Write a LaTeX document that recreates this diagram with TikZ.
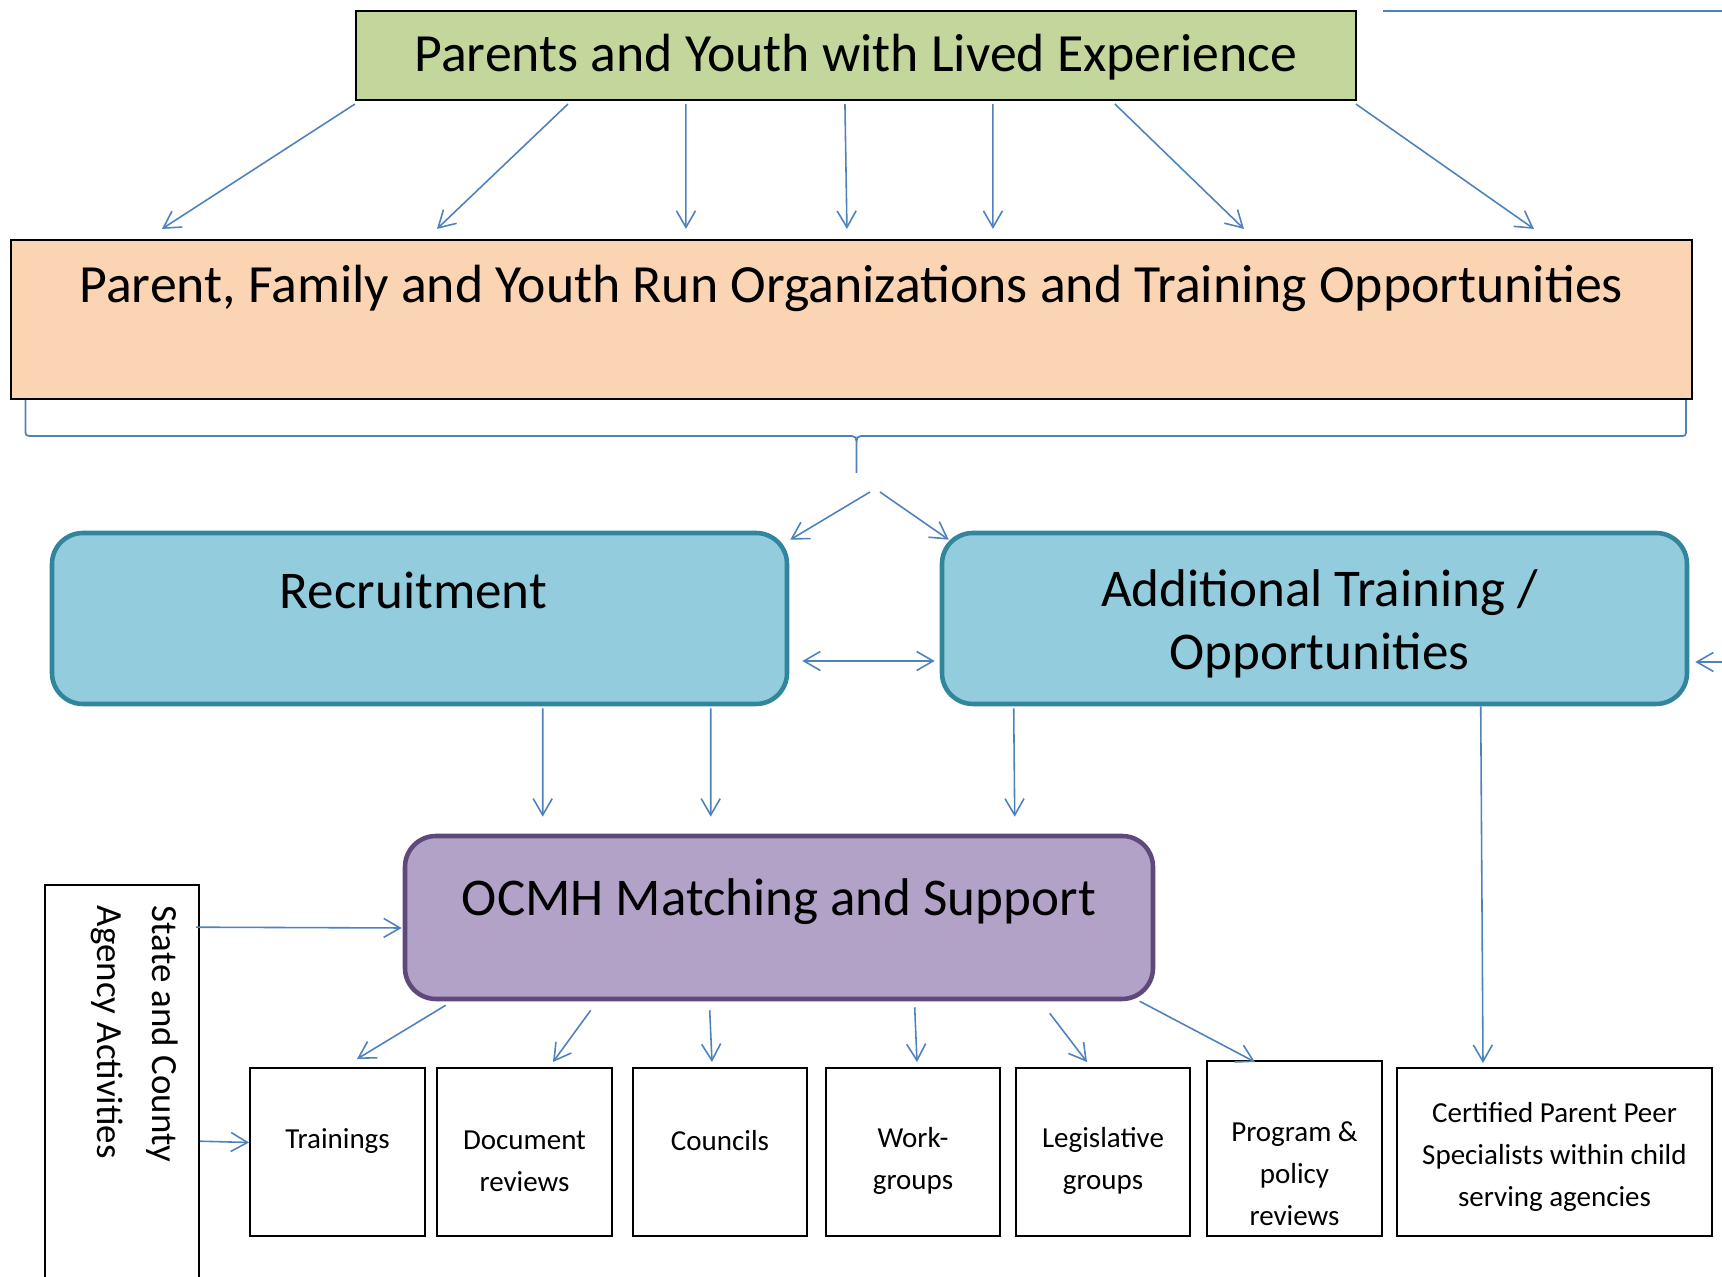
\documentclass[tikz,border=0pt]{standalone}
\usepackage{fontspec}
\setmainfont{Carlito}
\usetikzlibrary{arrows.meta,calc}

\definecolor{arrowblue}{HTML}{4F81BD}
\definecolor{livedgreen}{HTML}{C3D69B}
\definecolor{orgpeach}{HTML}{FBD4B4}
\definecolor{tealfill}{HTML}{93CDDD}
\definecolor{tealline}{HTML}{31859C}
\definecolor{lilacfill}{HTML}{B2A2C7}
\definecolor{lilacline}{HTML}{5F497A}

\begin{document}
\begin{tikzpicture}[x=1cm, y=-1cm,
	>={Straight Barb[length=0.165cm, width=0.19cm]},
	arr/.style={draw=arrowblue, line width=0.45pt, ->},
	link/.style={draw=arrowblue, line width=0.5pt},
	toptext/.style={font=\fontsize{15.3}{18}\selectfont},
	midtext/.style={font=\fontsize{15.1}{17.9}\selectfont, align=center},
	smalltext/.style={font=\fontsize{8.25}{11.95}\selectfont, align=center},
	plainbox/.style={draw=black, line width=0.6pt, inner sep=0pt},
	roundbox/.style={line width=1.3pt, rounded corners=0.31cm, inner sep=0pt},
	smallbox/.style={draw=black, line width=0.55pt, fill=white, inner sep=0pt,
		minimum width=1.75cm, minimum height=1.68cm}]
	\useasboundingbox (0,0) rectangle (17.22,12.77);

	% top boxes
	\node[plainbox, fill=livedgreen, minimum width=10cm, minimum height=0.89cm,
		label={[name=livedlbl, toptext, yshift=-0.02cm]center:Parents and Youth with Lived Experience}] (lived) at (8.56,0.555) {};
	\node[plainbox, fill=orgpeach, minimum width=16.81cm, minimum height=1.59cm,
		label={[name=orglbl, toptext, yshift=0.31cm]center:{Parent, Family and Youth Run Organizations and Training Opportunities}}] (org) at (8.515,3.195) {};

	% middle boxes
	\node[roundbox, fill=tealfill, draw=tealline, minimum width=7.35cm, minimum height=1.71cm,
		label={[name=recruitlbl, midtext, xshift=-0.06cm, yshift=0.285cm]center:Recruitment}] (recruit) at (4.195,6.185) {};
	\node[roundbox, fill=tealfill, draw=tealline, minimum width=7.45cm, minimum height=1.71cm,
		label={[name=additionallbl, midtext, xshift=0.05cm, yshift=-0.055cm]center:{Additional Training /\\Opportunities}}] (additional) at (13.145,6.185) {};
	\node[roundbox, fill=lilacfill, draw=lilacline, minimum width=7.48cm, minimum height=1.63cm,
		label={[name=ocmhlbl, midtext, yshift=0.155cm]center:OCMH Matching and Support}] (ocmh) at (7.79,9.175) {};

	% left side box, runs off the page
	\node[draw=black, line width=0.45pt, inner sep=0pt, minimum width=1.54cm, minimum height=4.4cm] (state) at (1.22,11.05) {};
	\node[font=\fontsize{10.5}{15.6}\selectfont, align=left, inner sep=0pt, rotate=-90, anchor=west] (statelbl) at ($(state.north)+(0.125,0.21)$) {State and County\\Agency Activities};

	% bottom row
	\node[smallbox, label={[name=trainingslbl, smalltext, yshift=0.11cm]center:Trainings}] (trainings) at (3.375,11.52) {};
	\node[smallbox, label={[name=documentslbl, smalltext, yshift=-0.09cm]center:{Document\\reviews}}] (documents) at (5.245,11.52) {};
	\node[smallbox, minimum width=1.74cm, label={[name=councilslbl, smalltext, yshift=0.11cm]center:Councils}] (councils) at (7.20,11.52) {};
	\node[smallbox, minimum width=1.74cm, label={[name=workgroupslbl, smalltext, yshift=-0.09cm]center:{Work-\\groups}}] (workgroups) at (9.13,11.52) {};
	\node[smallbox, minimum width=1.74cm, label={[name=legislativelbl, smalltext, yshift=-0.09cm]center:{Legislative\\groups}}] (legislative) at (11.03,11.52) {};
	\node[smallbox, minimum height=1.75cm, label={[name=programlbl, smalltext, yshift=-0.25cm]center:{Program \&\\policy\\reviews}}] (program) at (12.945,11.485) {};
	\node[smallbox, minimum width=3.15cm, label={[name=certifiedlbl, smalltext, yshift=-0.05cm]center:{Certified Parent Peer\\Specialists within child\\serving agencies}}] (certified) at (15.545,11.52) {};

	% loose ends at the page edge
	\coordinate (linestart) at (13.83,0.11);
	\coordinate (lineend) at (17.40,0.11);
	\coordinate (offright) at (17.40,6.62);
	\coordinate (fork) at (8.75,4.92);

	\draw[link] (linestart) -- (lineend);

	% arrows out of the top box
	\foreach \sx/\ex in {0/1.52, 2.13/4.27, 3.31/6.76, 4.90/8.37, 6.38/9.83, 7.60/12.34, 10.01/15.24}
	\draw[arr] ($(lived.south west)+(\sx,0.03)$) -- ($(org.north west)+(\ex,-0.10)$);

	% brace under the organizations box
	\draw[link] (0.255,4.00) -- (0.255,4.29) .. controls (0.255,4.36) .. (0.33,4.36)
		-- (8.47,4.36) .. controls (8.565,4.36) .. (8.565,4.47)
		.. controls (8.565,4.36) .. (8.66,4.36) -- (16.79,4.36)
		.. controls (16.86,4.36) .. (16.86,4.29) -- (16.86,4.00)
		(8.565,4.47) -- (8.565,4.73);

	\draw[arr] ($(fork)+(-0.05,0)$) -- ($(recruit.north east)+(0.01,0.09)$);
	\draw[arr] ($(fork)+(0.05,0)$) -- ($(additional.north west)+(0.09,0.09)$);
	\draw[arr, <->] ($(recruit.east)+(0.13,0.425)$) -- ($(additional.west)+(-0.05,0.425)$);
	\draw[arr] (offright) -- ($(additional.east)+(0.06,0.435)$);

	% into the matching box
	\draw[arr] ($(recruit.south west)+(4.93,0.02)$) -- ($(ocmh.north west)+(1.40,-0.17)$);
	\draw[arr] ($(recruit.south west)+(6.61,0.02)$) -- ($(ocmh.north west)+(3.08,-0.17)$);
	\draw[arr] ($(additional.south west)+(0.74,0.02)$) -- ($(ocmh.north west)+(6.12,-0.17)$);
	\draw[arr] ($(additional.south west)+(5.41,0)$) -- ($(certified.north)+(-0.715,-0.04)$);
	\draw[arr] ($(state.north east)+(-0.04,0.43)$) -- ($(ocmh.west)+(-0.01,0.105)$);
	\draw[arr] ($(state.north east)+(0,2.57)$) -- ($(trainings.west)+(0,-0.095)$);

	% out of the matching box
	\foreach \sx/\sy/\target/\ex/\ey in {
		0.43/0.04/trainings/0.195/-0.08,
		1.88/0.09/documents/0.285/-0.05,
		3.07/0.09/councils/-0.08/-0.05,
		5.12/0.06/workgroups/0.04/-0.05,
		6.47/0.12/legislative/-0.16/-0.05,
		7.37/0.00/program/-0.395/0.02}
	\draw[arr] ($(ocmh.south west)+(\sx,\sy)$) -- ($(\target.north)+(\ex,\ey)$);
\end{tikzpicture}
\end{document}
